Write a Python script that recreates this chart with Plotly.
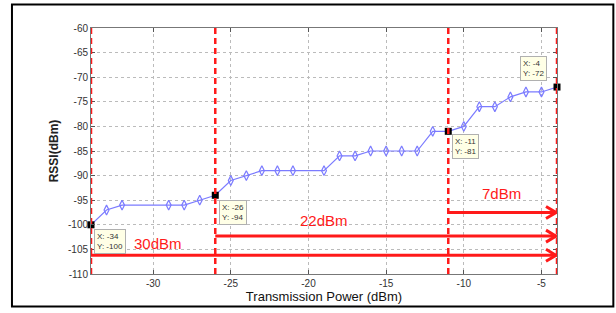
import plotly.graph_objects as go

# ---- data ----
power = [-34, -33, -32, -29, -28, -27, -26, -25, -24, -23, -22, -21, -19, -18,
         -17, -16, -15, -14, -13, -12, -11, -10, -9, -8, -7, -6, -5, -4]
rssi = [-100, -97, -96, -96, -96, -95, -94, -91, -90, -89, -89, -89, -89, -86,
        -86, -85, -85, -85, -85, -81, -81, -80, -76, -76, -74, -73, -73, -72]

tip_x = [-34, -26, -11, -4]          # data-cursor points
arrow_start = [-34, -26, -11]        # start of the range arrows
arrow_y = [-106.2, -102.3, -97.5]
arrow_labels = ["30dBm", "22dBm", "7dBm"]
label_x = [-29.7, -19.0, -7.6]
label_y = [-103.8, -99.2, -93.6]
x_ticks = [-30, -25, -20, -15, -10, -5]
y_ticks = [-60, -65, -70, -75, -80, -85, -90, -95, -100, -105, -110]

tip_y = [rssi[power.index(t)] for t in tip_x]
plain_x = [p for p in power if p not in tip_x]
plain_y = [r for p, r in zip(power, rssi) if p not in tip_x]
x_end = tip_x[-1]

RED = "#ff1a1a"
BLUE = "#7b7bff"

fig = go.Figure()
fig.add_trace(go.Scatter(x=power, y=rssi, mode="lines",
                         line=dict(color=BLUE, width=1.2), hoverinfo="skip"))
fig.add_trace(go.Scatter(x=plain_x, y=plain_y, mode="markers",
                         marker=dict(symbol="diamond-tall-open", size=7, color=BLUE,
                                     line=dict(width=1.2, color=BLUE))))
fig.add_trace(go.Scatter(x=tip_x, y=tip_y, mode="markers",
                         marker=dict(symbol="square", size=7, color="black"),
                         cliponaxis=False))

shapes = []
# vertical red dashed lines
for t in tip_x:
    shapes.append(dict(type="line", xref="x", yref="paper", x0=t, x1=t, y0=0, y1=1,
                       line=dict(color=RED, width=2.5, dash="6px,4px"), layer="above"))
# horizontal arrows
for xs, ya in zip(arrow_start, arrow_y):
    shapes.append(dict(type="line", xref="x", yref="y", x0=xs, x1=x_end, y0=ya, y1=ya,
                       line=dict(color=RED, width=3), layer="above"))
    shapes.append(dict(type="path", xref="x", yref="y", xsizemode="pixel", ysizemode="pixel",
                       xanchor=x_end, yanchor=ya, path="M -11,6 L -1,0 L -11,-6",
                       line=dict(color=RED, width=3), layer="above"))
# outer black frame
shapes.append(dict(type="rect", xref="paper", yref="paper",
                   x0=-0.1696, x1=1.1209, y0=-0.132, y1=1.096,
                   line=dict(color="black", width=2)))

annotations = []
for lx, ly, txt in zip(label_x, label_y, arrow_labels):
    annotations.append(dict(x=lx, y=ly, text=txt, showarrow=False,
                            font=dict(color=RED, size=15, family="Liberation Sans")))
tip_pos = [("left", "top", 3, -4), ("left", "top", 4, -5),
           ("left", "top", 4, -3), ("right", "bottom", -10, 6)]
for (tx, ty), (xa, ya, xs, ys) in zip(zip(tip_x, tip_y), tip_pos):
    annotations.append(dict(x=tx, y=ty, text=f"X: {tx}<br>Y: {ty}", showarrow=False,
                            xanchor=xa, yanchor=ya, xshift=xs, yshift=ys, align="left",
                            bgcolor="#ffffe6", bordercolor="#b0b0b0", borderwidth=1,
                            borderpad=2, font=dict(size=8, color="#333", family="Liberation Sans")))

fig.update_layout(
    width=616, height=313,
    margin=dict(l=91, r=59, t=28, b=35),
    paper_bgcolor="white", plot_bgcolor="white",
    showlegend=False,
    shapes=shapes, annotations=annotations,
    font=dict(family="Liberation Sans", color="#222"),
    xaxis=dict(range=[-34, -4], tickvals=x_ticks, ticktext=[str(v) for v in x_ticks],
               ticks="inside", ticklen=4,
               tickcolor="#555", showline=True, linecolor="#777", linewidth=1, mirror="ticks",
               showgrid=True, gridcolor="#bbbbbb", griddash="dot", gridwidth=1,
               zeroline=False, tickfont=dict(size=10, color="#333"),
               title=dict(text="Transmission Power (dBm)", font=dict(size=13, color="#111"),
                          standoff=3)),
    yaxis=dict(range=[-110, -60], tickvals=y_ticks, ticktext=[str(v) for v in y_ticks],
               ticks="inside", ticklen=4,
               tickcolor="#555", showline=True, linecolor="#777", linewidth=1, mirror="ticks",
               showgrid=True, gridcolor="#bbbbbb", griddash="dot", gridwidth=1,
               zeroline=False, tickfont=dict(size=10, color="#333"),
               title=dict(text="<b>RSSI(dBm)</b>", font=dict(size=12, color="#222"), standoff=6)),
)

fig.write_html("out.html", config={"displayModeBar": False},
               post_script="document.body.style.margin='0';document.body.style.overflow='hidden';")
